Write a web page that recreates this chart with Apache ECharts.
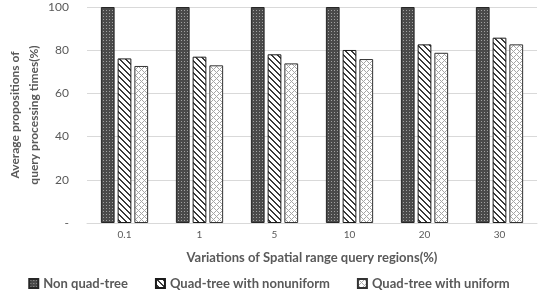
<!DOCTYPE html>
<html>
<head>
<meta charset="utf-8">
<script src="https://cdn.jsdelivr.net/npm/echarts@6/dist/echarts.min.js"></script>
<style>
  html, body { margin: 0; padding: 0; background: #fff; }
  #chart { width: 538px; height: 295px; }
</style>
</head>
<body>
<div id="chart"></div>
<script>
// query region sizes (%)
var categories = ['0.1', '1', '5', '10', '20', '30'];
var seriesNames = ['Non quad-tree', 'Quad-tree with nonuniform', 'Quad-tree with uniform'];
var nonQuadTree = [100, 100, 100, 100, 100, 100];
var quadNonuniform = [76.2, 77.0, 78.1, 80.1, 82.7, 85.8];
var quadUniform = [72.7, 73.0, 73.9, 75.9, 78.8, 82.7];
var yTicks = [0, 20, 40, 60, 80, 100];

// small repeating fills to mimic the excel hatch patterns
function makePattern(size, bg, fg, test) {
    var c = document.createElement('canvas');
    c.width = size; c.height = size;
    var ctx = c.getContext('2d');
    ctx.fillStyle = bg;
    ctx.fillRect(0, 0, size, size);
    ctx.fillStyle = fg;
    for (var x = 0; x < size; x++) {
        for (var y = 0; y < size; y++) {
            if (test(x, y, size)) ctx.fillRect(x, y, 1, 1);
        }
    }
    return c;
}
var dots = makePattern(3, '#4a4a4a', '#a0a0a0', function (x, y) { return x === 1 && y === 1; });
var stripes = makePattern(6, '#ffffff', '#3a3a3a', function (x, y, s) { return ((x - y) % s + s) % s < 2; });
var cross = makePattern(6, '#ffffff', '#a6a6a6', function (x, y, s) {
    return ((x - y) % s + s) % s === 0 || (x + y) % s === 0;
});

var fills = [dots, stripes, cross];
var borders = ['#262626', '#1a1a1a', '#333333'];
var values = [nonQuadTree, quadNonuniform, quadUniform];

var chart = echarts.init(document.getElementById('chart'), null, { renderer: 'canvas' });

var series = seriesNames.map(function (name, i) {
    return {
        name: name,
        type: 'bar',
        data: values[i],
        barGap: '22%',
        barCategoryGap: '37%',
        itemStyle: {
            color: { image: fills[i], repeat: 'repeat' },
            borderColor: borders[i],
            borderWidth: 1
        }
    };
});

chart.setOption({
    animation: false,
    textStyle: { fontFamily: 'Lato' },
    grid: { left: 87, right: 1, top: 7, bottom: 72, outerBoundsMode: 'none', containLabel: false },
    legend: {
        data: seriesNames,
        bottom: 0,
        left: 'center',
        icon: 'rect',
        itemWidth: 9,
        itemHeight: 9,
        itemGap: 27,
        textStyle: { color: '#595959', fontSize: 13, fontWeight: 'bold', fontFamily: 'Lato' }
    },
    xAxis: {
        type: 'category',
        data: categories,
        name: 'Variations of Spatial range query regions(%)',
        nameLocation: 'middle',
        nameGap: 28,
        nameMoveOverlap: false,
        nameTextStyle: { color: '#595959', fontSize: 13, fontWeight: 'bold' },
        axisLine: { lineStyle: { color: '#d9d9d9' } },
        axisTick: { show: false },
        axisLabel: { color: '#595959', fontSize: 10, margin: 7 }
    },
    yAxis: {
        type: 'value',
        min: yTicks[0],
        max: yTicks[yTicks.length - 1],
        interval: 20,
        name: 'Average propositions of\nquery processing times(%)',
        nameLocation: 'middle',
        nameGap: 43,
        nameMoveOverlap: false,
        nameTextStyle: { color: '#595959', fontSize: 12, fontWeight: 'bold', lineHeight: 19 },
        axisLine: { show: false },
        axisTick: { show: false },
        splitLine: { lineStyle: { color: '#d9d9d9' } },
        axisLabel: {
            color: '#595959',
            fontSize: 12,
            margin: 18,
            formatter: function (v) { return v === 0 ? '-' : v; }
        }
    },
    series: series
});
</script>
</body>
</html>
